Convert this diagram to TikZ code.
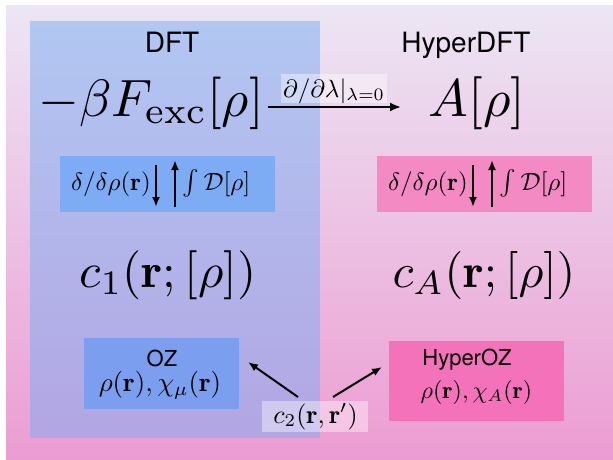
\documentclass[tikz,border=0pt]{standalone}
\usepackage{fontspec}
\newfontfamily\hv{TeX Gyre Heros}
\usetikzlibrary{arrows.meta}
\definecolor{bgtop}{HTML}{ECE6F4}
\definecolor{bgmid}{HTML}{EAC6E6}
\definecolor{bgbot}{HTML}{EC9CD2}
\definecolor{panelblue}{HTML}{7AACF2}
\definecolor{boxblue}{HTML}{7EACF4}
\definecolor{boxpink}{HTML}{F48AC4}
\definecolor{ozblue}{HTML}{7C9EEE}
\definecolor{ozpink}{HTML}{F472B9}
\begin{document}
\begin{tikzpicture}[x=1pt,y=-1pt,
  box/.style={anchor=north west, inner sep=0pt, outer sep=0pt, draw=none},
  lbl/.style={anchor=base, inner sep=0pt},
  sans/.style={lbl, font=\hv\fontsize{#1}{#1}\selectfont},
  mth/.style={lbl, scale=#1, transform shape},
  conn/.style={line width=2pt, -{Latex[length=10pt,width=8pt]}},
  bigconn/.style={line width=2pt, -{Latex[length=11pt,width=9pt]}},
]
\useasboundingbox (0,0) rectangle (613,460);
\fill[white] (0,0) rectangle (613,460);
\shade[top color=bgtop, middle color=bgmid, bottom color=bgbot] (6,6) rectangle (613,460);
% DFT panel
\fill[panelblue, fill opacity=0.5] (30,21) rectangle (320,438);

% boxes
\node[box, fill=boxblue, minimum width=215pt, minimum height=56pt] (dbox) at (60,156) {};
\node[box, fill=boxpink, minimum width=215pt, minimum height=56pt] (hbox) at (377,156) {};
\node[box, fill=ozblue, minimum width=155pt, minimum height=71pt] (ozbox) at (84,338) {};
\node[box, fill=ozpink, minimum width=175pt, minimum height=80pt] (hozbox) at (389,341) {};
\node[box, fill=white, fill opacity=0.4, minimum width=106pt, minimum height=29pt] (dlbox) at (281,74) {};
\node[box, fill=white, fill opacity=0.4, minimum width=106pt, minimum height=31pt] (c2box) at (262,401) {};

% titles
\node[sans=28] (dft) at (172,53) {DFT};
\node[sans=28] (hdft) at (466,53) {HyperDFT};

% functionals
\node[mth=5.25] (fexc) at (151,116) {$-\beta F_{\mathrm{exc}}[\rho]$};
\node[mth=5.3] (arho) at (477,116) {$A[\rho]$};
\node[mth=2.5] (dlam) at (334,97) {$\partial/\partial\lambda|_{\lambda=0}$};
\coordinate (a1) at (268,107);
\coordinate (a2) at (401,107);
\draw[bigconn] (a1) -- (a2);

% functional derivative boxes
\node[mth=2.5] (dl) at (111,190) {$\delta/\delta\rho(\mathbf{r})$};
\node[mth=2.5] (il) at (216.5,190) {$\int\mathcal{D}[\rho]$};
\coordinate (dls) at (156,165);
\coordinate (dle) at (156,207);
\coordinate (uls) at (175,207);
\coordinate (ule) at (175,160);
\draw[conn] (dls) -- (dle);
\draw[conn] (uls) -- (ule);

\node[mth=2.5] (dr) at (428,190) {$\delta/\delta\rho(\mathbf{r})$};
\node[mth=2.5] (ir) at (533.5,190) {$\int\mathcal{D}[\rho]$};
\coordinate (drs) at (473,165);
\coordinate (dre) at (473,207);
\coordinate (urs) at (492,207);
\coordinate (ure) at (492,160);
\draw[conn] (drs) -- (dre);
\draw[conn] (urs) -- (ure);

% direct correlation functions
\node[mth=4.9] (c1) at (168,287) {$c_1(\mathbf{r};[\rho])$};
\node[mth=4.8] (cA) at (484,287) {$c_A(\mathbf{r};[\rho])$};

% OZ boxes
\node[sans=22] (oz) at (162,366) {OZ};
\node[mth=2.7] (ozm) at (160,391.5) {$\rho(\mathbf{r}),\chi_\mu(\mathbf{r})$};
\node[sans=22] (hoz) at (467,365) {HyperOZ};
\node[mth=2.4] (hozm) at (476.5,398) {$\rho(\mathbf{r}),\chi_A(\mathbf{r})$};

% c2
\node[mth=2.6] (c2) at (315.5,423) {$c_2(\mathbf{r},\mathbf{r}')$};
\coordinate (l1) at (298,397);
\coordinate (l2) at (248,362);
\coordinate (r1) at (333,397);
\coordinate (r2) at (382,367);
\draw[conn] (l1) -- (l2);
\draw[conn] (r1) -- (r2);
\end{tikzpicture}
\end{document}
